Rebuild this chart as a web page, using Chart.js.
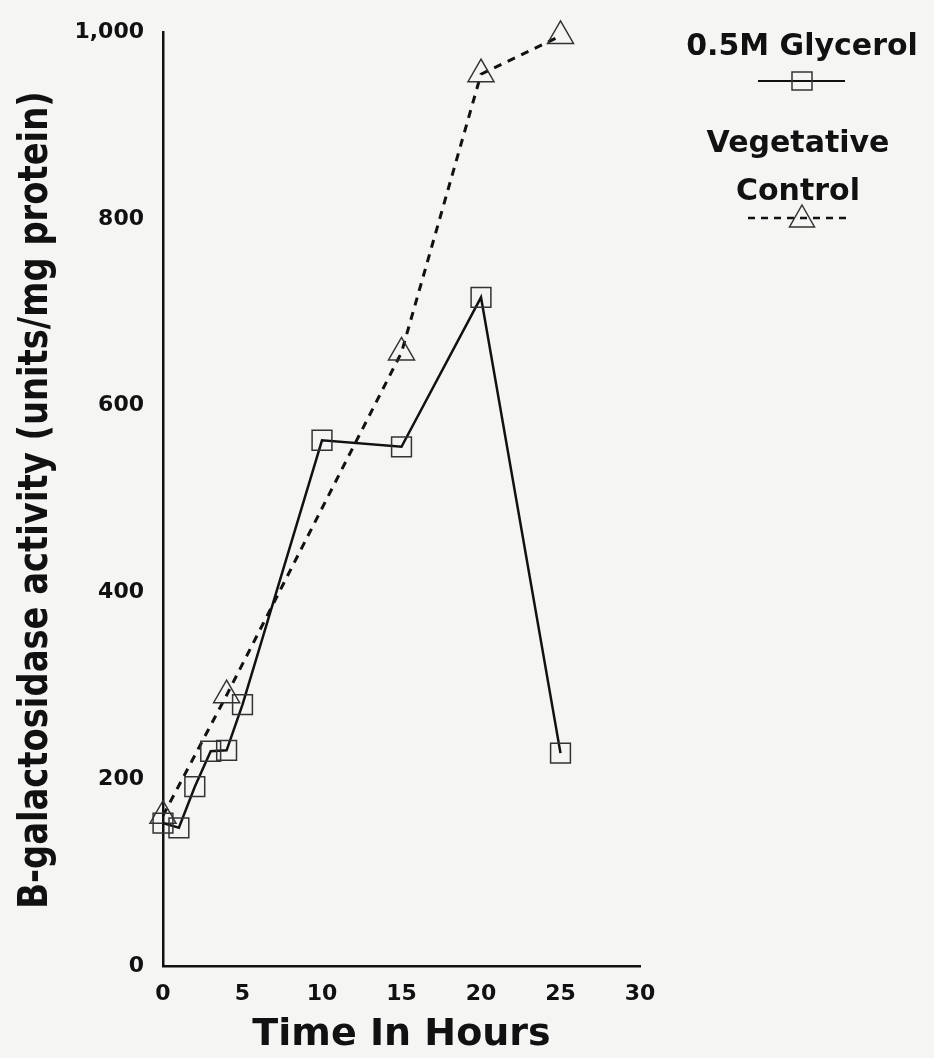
<!DOCTYPE html>
<html>
<head>
<meta charset="utf-8">
<title>B-galactosidase activity over time</title>
<script src="https://cdn.jsdelivr.net/npm/chart.js@4/dist/chart.umd.min.js"></script>
<style>
  html, body { margin: 0; padding: 0; background: #f5f5f4; }
  #wrap { width: 934px; height: 1058px; position: relative; }
</style>
</head>
<body>
<div id="wrap"><canvas id="chart"></canvas></div>
<script>
// Sampling times (hours) and activity (units/mg protein)
const glycerolHours = [0, 1, 2, 3, 4, 5, 10, 15, 20, 25];
const glycerolActivity = [153, 148, 192, 230, 231, 280, 563, 556, 716, 228];
const controlHours = [0, 4, 15, 20, 25];
const controlActivity = [161, 290, 657, 955, 996];

const xTicks = [0, 5, 10, 15, 20, 25, 30];
const yTicks = [0, 200, 400, 600, 800, 1000];

const glycerolLabel = '0.5M Glycerol';
const controlLabel = ['Vegetative', 'Control'];
const xTitle = 'Time In Hours';
const yTitle = 'B-galactosidase activity (units/mg protein)';

const ink = '#111';
const markInk = '#333';
const heavy = '"DejaVu Sans", sans-serif';
const tickFont = { family: heavy, weight: 'bold', size: 22 };

const toPoints = (xs, ys) => xs.map((x, i) => ({ x, y: ys[i] }));

// Rotated, condensed y-axis title
const yTitlePlugin = {
  id: 'yTitle',
  afterDraw(chart) {
    const ctx = chart.ctx;
    const area = chart.chartArea;
    ctx.save();
    ctx.translate(47, (area.top + area.bottom) / 2 + 1);
    ctx.rotate(-Math.PI / 2);
    ctx.scale(0.845, 1);
    ctx.font = 'bold 40px ' + heavy;
    ctx.fillStyle = ink;
    ctx.textAlign = 'center';
    ctx.textBaseline = 'alphabetic';
    ctx.fillText(yTitle, 0, 0);
    ctx.restore();
  }
};

// Legend in the right margin: series name above a sample of its line and marker
const sideLegend = {
  id: 'sideLegend',
  afterDraw(chart) {
    const ctx = chart.ctx;
    ctx.save();
    ctx.font = 'bold 30px ' + heavy;
    ctx.fillStyle = ink;
    ctx.textAlign = 'center';
    ctx.textBaseline = 'alphabetic';
    ctx.fillText(glycerolLabel, 802, 55);
    ctx.fillText(controlLabel[0], 798, 152);
    ctx.fillText(controlLabel[1], 798, 200);

    // solid sample with an open square
    ctx.strokeStyle = ink;
    ctx.lineWidth = 2;
    ctx.setLineDash([]);
    ctx.beginPath();
    ctx.moveTo(758, 81);
    ctx.lineTo(845, 81);
    ctx.stroke();
    ctx.strokeStyle = markInk;
    ctx.lineWidth = 1.5;
    ctx.beginPath();
    ctx.rect(792, 72, 20, 18);
    ctx.stroke();

    // dashed sample with an open triangle
    ctx.strokeStyle = ink;
    ctx.lineWidth = 2.5;
    ctx.setLineDash([7, 6]);
    ctx.beginPath();
    ctx.moveTo(748, 218);
    ctx.lineTo(848, 218);
    ctx.stroke();
    ctx.setLineDash([]);
    ctx.strokeStyle = markInk;
    ctx.lineWidth = 1.5;
    ctx.beginPath();
    ctx.moveTo(802, 205);
    ctx.lineTo(814.5, 227);
    ctx.lineTo(789.5, 227);
    ctx.closePath();
    ctx.stroke();
    ctx.restore();
  }
};

new Chart(document.getElementById('chart'), {
  type: 'line',
  data: {
    datasets: [
      {
        label: glycerolLabel,
        data: toPoints(glycerolHours, glycerolActivity),
        borderColor: ink,
        borderWidth: 2.5,
        pointStyle: 'rect',
        pointRadius: 14,
        pointBorderColor: markInk,
        pointBorderWidth: 1.5,
        pointBackgroundColor: 'rgba(0,0,0,0)',
        tension: 0,
        clip: false
      },
      {
        label: controlLabel.join(' '),
        data: toPoints(controlHours, controlActivity),
        borderColor: ink,
        borderWidth: 3,
        borderDash: [8, 7],
        pointStyle: 'triangle',
        pointRadius: 15,
        pointBorderColor: markInk,
        pointBorderWidth: 1.5,
        pointBackgroundColor: 'rgba(0,0,0,0)',
        tension: 0,
        clip: false
      }
    ]
  },
  options: {
    responsive: true,
    maintainAspectRatio: false,
    animation: false,
    layout: { padding: { top: 28, right: 294, left: 0, bottom: 0 } },
    plugins: {
      legend: { display: false },
      tooltip: { enabled: false }
    },
    scales: {
      x: {
        type: 'linear',
        min: 0,
        max: 30,
        afterBuildTicks(scale) { scale.ticks = xTicks.map(v => ({ value: v })); },
        afterFit(scale) { scale.height = 92; },
        grid: { display: false, drawTicks: false },
        border: { display: true, color: ink, width: 2.5 },
        ticks: { color: ink, font: tickFont, padding: 15, maxRotation: 0 },
        title: {
          display: true,
          text: xTitle,
          color: ink,
          font: { family: heavy, weight: 'bold', size: 38, lineHeight: 1 },
          padding: { top: 0, bottom: 4 }
        }
      },
      y: {
        type: 'linear',
        min: 0,
        max: 1000,
        afterBuildTicks(scale) { scale.ticks = yTicks.map(v => ({ value: v })); },
        afterFit(scale) { scale.width = 163; },
        grid: { display: false, drawTicks: false },
        border: { display: true, color: ink, width: 2.5 },
        ticks: {
          color: ink,
          font: tickFont,
          padding: 19,
          callback: v => v.toLocaleString('en-US')
        }
      }
    }
  },
  plugins: [yTitlePlugin, sideLegend]
});
</script>
</body>
</html>
